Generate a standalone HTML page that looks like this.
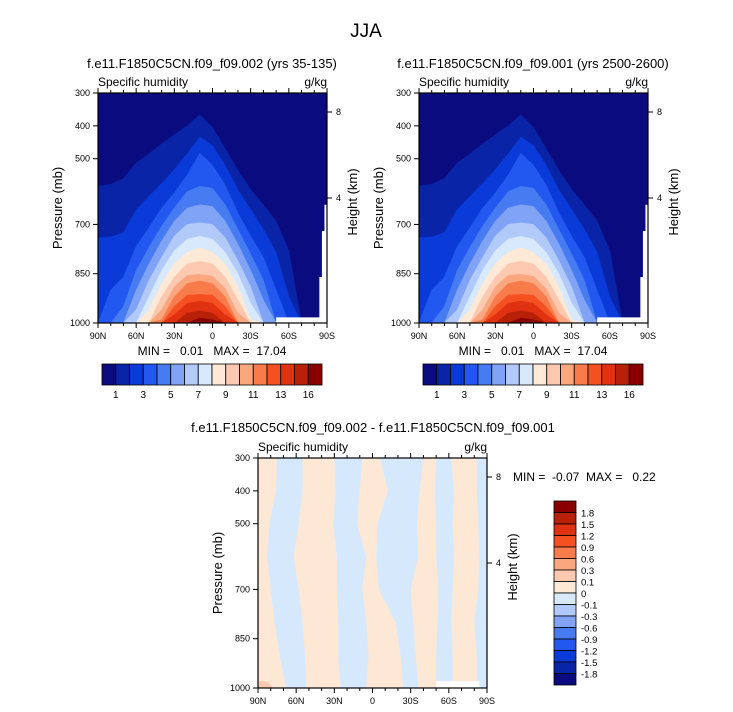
<!DOCTYPE html>
<html><head><meta charset="utf-8"><style>
html,body{margin:0;padding:0;background:#fff;}
svg{display:block;font-family:"Liberation Sans",Arial,sans-serif;}
text{white-space:pre;}
</style></head><body>
<svg id="fig" width="733" height="712" viewBox="0 0 733 712" xmlns="http://www.w3.org/2000/svg">
<text x="366" y="37" font-size="19" text-anchor="middle">JJA</text>
<text x="212" y="68" font-size="13" text-anchor="middle">f.e11.F1850C5CN.f09_f09.002 (yrs 35-135)</text>
<text x="533" y="68" font-size="13" text-anchor="middle">f.e11.F1850C5CN.f09_f09.001 (yrs 2500-2600)</text>
<text x="373" y="432" font-size="13" text-anchor="middle">f.e11.F1850C5CN.f09_f09.002 - f.e11.F1850C5CN.f09_f09.001</text>
<g id="g1"></g><g id="g2"></g><g id="g3"></g>
</svg>
<script>
const lats=[90,80,70,60,50,40,30,20,10,0,-10,-20,-30,-40,-50,-60,-70,-80,-90];
const lev1=[584,578,560,513,485,455,427,400,366,405,470,535,594,640,690,780,1000,1000,1000];
const lev2=[741,738,725,655,615,575,533,485,434,460,520,595,655,715,785,920,1000,1000,1000];
const lev3=[1000,900,860,767,710,650,604,550,483,520,580,665,736,800,900,1000,1000,1000,1000];
const lev4=[1000,1000,950,840,770,705,650,600,584,590,640,715,790,870,1000,1000,1000,1000,1000];
const lev5=[1000,1000,1000,900,820,750,690,650,640,645,690,760,840,930,1000,1000,1000,1000,1000];
const lev6=[1000,1000,1000,960,870,800,735,700,695,700,740,810,890,1000,1000,1000,1000,1000,1000];
const lev7=[1000,1000,1000,1000,920,840,780,745,736,745,785,850,940,1000,1000,1000,1000,1000,1000];
const lev8=[1000,1000,1000,1000,960,880,820,785,771,785,820,890,990,1000,1000,1000,1000,1000,1000];
const lev9=[1000,1000,1000,1000,1000,920,860,820,812,820,860,930,1000,1000,1000,1000,1000,1000,1000];
const lev10=[1000,1000,1000,1000,1000,960,890,855,852,858,895,970,1000,1000,1000,1000,1000,1000,1000];
const lev11=[1000,1000,1000,1000,1000,990,920,880,872,880,920,1000,1000,1000,1000,1000,1000,1000,1000];
const lev12=[1000,1000,1000,1000,1000,1000,950,915,913,915,950,1000,1000,1000,1000,1000,1000,1000,1000];
const lev13=[1000,1000,1000,1000,1000,1000,975,940,933,940,975,1000,1000,1000,1000,1000,1000,1000,1000];
const lev14=[1000,1000,1000,1000,1000,1000,1000,970,963,970,1000,1000,1000,1000,1000,1000,1000,1000,1000];
const lev15=[1000,1000,1000,1000,1000,1000,1000,1000,985,990,1000,1000,1000,1000,1000,1000,1000,1000,1000];
const levels=[lev1,lev2,lev3,lev4,lev5,lev6,lev7,lev8,lev9,lev10,lev11,lev12,lev13,lev14,lev15];
const topCbLabels=["1","3","5","7","9","11","13","16"];
const diffCbLabels=["1.8","1.5","1.2","0.9","0.6","0.3","0.1","0","-0.1","-0.3","-0.6","-0.9","-1.2","-1.5","-1.8"];
const presTicks=[300,400,500,700,850,1000];
const latTicks=[90,60,30,0,-30,-60,-90];
const latTickLabels=["90N","60N","30N","0","30S","60S","90S"];
const diffPres=[300,400,500,600,700,800,900,1000];
const b1=[75,76,81,83,80,77,73,68];
const b2=[55,55,58,62,58,55,53,52];
const b3=[30,29,31,28,28,27,27,25];
const b4=[8,10,12,5,8,5,3,5];
const b5=[-6,-12,-4,-3,-5,-18,-22,-24];
const b6=[-40,-37,-35,-36,-30,-32,-34,-36];
const b7=[-50,-49,-50,-50,-52,-51,-50,-50];
const b8=[-62,-64,-63,-64,-63,-62,-63,-63];
const b9=[-82,-82,-83,-84,-83,-80,-82,-82];
const colors=["#0b0b80","#0a24a8","#0a3ad8","#2358f0","#477bf2","#80a3f5","#b2caf9","#d8e9fc","#fde9d6","#fcc9b0","#faa67f","#f87b4c","#f55021","#e03210","#b82108","#8a0000"];
const NS="http://www.w3.org/2000/svg";
function mk(tag,attrs,parent){const e=document.createElementNS(NS,tag);for(const k in attrs)e.setAttribute(k,attrs[k]);parent.appendChild(e);return e;}
function panel(g,x0,y0,w,h,kind,pid){
  const xs=lat=>x0+(90-lat)/180*w;
  const yp=p=>y0+(p-300)/700*h;
  const cid="clip"+pid;
  const defs=mk("defs",{},g);
  const cp=mk("clipPath",{id:cid},defs);
  mk("rect",{x:x0,y:y0,width:w,height:h},cp);
  const plot=mk("g",{"clip-path":"url(#"+cid+")"},g);
  
  
  if(kind==="q"){
    const bg=mk("rect",{x:x0,y:y0,width:w,height:h,fill:colors[0]},plot);
    
    
    levels.forEach((lv,k)=>{
      let pts=lats.map((la,i)=>xs(la).toFixed(1)+","+yp(lv[i]).toFixed(1));
      pts.push(xs(-90)+","+yp(1000),xs(90)+","+yp(1000));
      const pg=mk("polygon",{points:pts.join(" "),fill:colors[k+1],"stroke":colors[k+1],"stroke-width":0.5,"stroke-linejoin":"round"},plot);
      
      
    });
    const m1=mk("polygon",{points:[xs(-50)+","+yp(983),xs(-84)+","+yp(983),xs(-84)+","+yp(860),xs(-86)+","+yp(860),xs(-86)+","+yp(720),xs(-88)+","+yp(720),xs(-88)+","+yp(640),xs(-90)+","+yp(640),xs(-90)+","+yp(1000),xs(-50)+","+yp(1000)].join(" "),fill:"#fff"},plot);
    
    
  } else {
    const bg=mk("rect",{x:x0,y:y0,width:w,height:h,fill:"#d6e8fc"},plot);
    
    
    const pairs=[[null,b1],[b2,b3],[b4,b5],[b6,b7],[b8,b9]];
    pairs.forEach((pr,j)=>{
      const L=pr[0],R=pr[1];
      let pts=diffPres.map((p,i)=>xs(L?L[i]:92)+","+yp(p));
      for(let i=diffPres.length-1;i>=0;i--)pts.push(xs(R[i])+","+yp(diffPres[i]));
      const pg=mk("polygon",{points:pts.join(" "),fill:"#fde8d6"},plot);
      
      
    });
    const sp=mk("ellipse",{cx:x0+3,cy:y0+h,rx:11,ry:7,fill:"#fcc9b0"},plot);
    
    
    const m=mk("rect",{x:xs(-50),y:y0+h-7,width:xs(-84)-xs(-50),height:7,fill:"#fff"},plot);
    
    
  }
  const fr=mk("rect",{x:x0,y:y0,width:w,height:h,fill:"none",stroke:"#000","stroke-width":1.2},g);
  
  
  for(let la=90;la>=-90;la-=10){
    const major=la%30===0; const L=major?5:3;
    mk("line",{x1:xs(la),x2:xs(la),y1:y0+h,y2:y0+h+L,stroke:"#000","stroke-width":1},g);
    mk("line",{x1:xs(la),x2:xs(la),y1:y0,y2:y0-L,stroke:"#000","stroke-width":1},g);
  }
  latTicks.forEach((la,i)=>{
    const t=mk("text",{x:xs(la),y:y0+h+16,"font-size":9,"text-anchor":"middle"},g);
    t.textContent=latTickLabels[i];
    
    
  });
  presTicks.forEach(p=>{
    mk("line",{x1:x0-5,x2:x0,y1:yp(p),y2:yp(p),stroke:"#000","stroke-width":1},g);
    const t=mk("text",{x:x0-8,y:yp(p)+3,"font-size":9,"text-anchor":"end"},g);
    t.textContent=p;
    
    
  });
  [[8,19],[4,105]].forEach(a=>{
    mk("line",{x1:x0+w,x2:x0+w+5,y1:y0+a[1],y2:y0+a[1],stroke:"#000","stroke-width":1},g);
    const t=mk("text",{x:x0+w+9,y:y0+a[1]+3,"font-size":9},g);
    t.textContent=a[0];
    
    
  });
  const s=mk("text",{x:x0,y:y0-7,"font-size":12},g);
  s.textContent="Specific humidity";
  
  
  const u=mk("text",{x:x0+w,y:y0-7,"font-size":12,"text-anchor":"end"},g);
  u.textContent="g/kg";
  
  
  const yl=mk("text",{x:0,y:0,"font-size":13,"text-anchor":"middle",transform:"translate("+(x0-36)+","+(y0+h/2)+") rotate(-90)"},g);
  yl.textContent="Pressure (mb)";
  
  
  const hl=mk("text",{x:0,y:0,"font-size":13,"text-anchor":"middle",transform:"translate("+(x0+w+30)+","+(y0+h/2-6)+") rotate(-90)"},g);
  hl.textContent="Height (km)";
  
  
}
function hbar(g,x0,y0,w,h){
  const bw=w/16;
  colors.forEach((c,i)=>{
    const r=mk("rect",{x:x0+i*bw,y:y0,width:bw,height:h,fill:c,stroke:"#000","stroke-width":0.8},g);
    
    
  });
  topCbLabels.forEach((l,i)=>{
    const t=mk("text",{x:x0+(2*i+1)*bw,y:y0+h+13,"font-size":10,"text-anchor":"middle"},g);
    t.textContent=l;
    
    
  });
}
function minmax(g,x,y,txt,anchor){
  const t=mk("text",{x:x,y:y,"font-size":12,"text-anchor":anchor},g);
  t.textContent=txt;
  
  
}
const g1=document.getElementById("g1"),g2=document.getElementById("g2"),g3=document.getElementById("g3");
panel(g1,98,93,229,230,"q","a");
panel(g2,419,93,229,230,"q","b");
panel(g3,258,458,229,230,"d","c");
minmax(g1,212,355,"MIN =   0.01   MAX =  17.04","middle");
minmax(g2,533,355,"MIN =   0.01   MAX =  17.04","middle");
minmax(g3,513,481,"MIN =  -0.07  MAX =   0.22","start");
hbar(g1,102,364,220,21);
hbar(g2,423,364,220,21);
const vx=554,vy=501,vw=22,vh=184,vb=vh/16;
colors.slice().reverse().forEach((c,i)=>{
  const r=mk("rect",{x:vx,y:vy+i*vb,width:vw,height:vb,fill:c,stroke:"#000","stroke-width":0.8},g3);
  
  
});
diffCbLabels.forEach((l,i)=>{
  const t=mk("text",{x:vx+vw+5,y:vy+(i+1)*vb+4,"font-size":9.5},g3);
  t.textContent=l;
  
  
});
</script>
</body></html>
